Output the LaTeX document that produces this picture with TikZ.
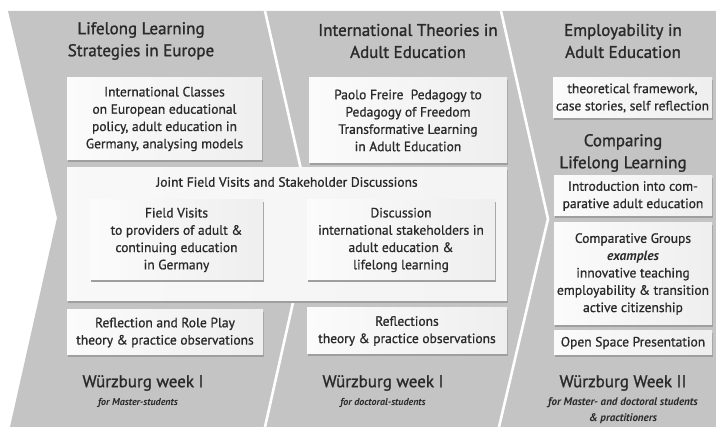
\documentclass[tikz,border=0pt]{standalone}
\usepackage{fontspec}
\setmainfont{PT Sans}
\newfontfamily\medfont{PT Sans}[FakeBold=0.9]
\newfontfamily\semifont{PT Sans}[FakeBold=1.3]
\usetikzlibrary{shadows}
\definecolor{bandgray}{HTML}{C4C4C4}
\definecolor{inkgray}{HTML}{2A2A2A}
\tikzset{
  card/.style={draw=none, left color=gray!3, right color=gray!13,
    drop shadow={shadow xshift=0.8pt, shadow yshift=-1.6pt, fill=gray!75, opacity=1},
    align=center, inner sep=0pt, text=inkgray, font=\medfont\fontsize{13.5}{17.3}\selectfont},
  head/.style={align=center, text=inkgray, font=\semifont\fontsize{17}{22}\selectfont},
  week/.style={text=inkgray, font=\semifont\fontsize{17}{20}\selectfont},
  note/.style={align=center, text=inkgray, font=\fontsize{10}{16}\selectfont\bfseries\itshape},
}
\begin{document}
\begin{tikzpicture}[x=1pt,y=-1pt]
  \useasboundingbox (0,0) rectangle (716,427);
  %grey band with the three chevrons
  \coordinate (tl) at (8,11);
  \coordinate (notch) at (57,218);
  \coordinate (bl) at (10,427);
  \fill[bandgray] (tl) -- (716,11) -- (716,427) -- (bl) -- (notch) -- cycle;
  \coordinate (a1) at (265,11);  \coordinate (a2) at (312,218);  \coordinate (a3) at (265,427);
  \coordinate (b1) at (501,11);  \coordinate (b2) at (548,219);  \coordinate (b3) at (499,427);
  \draw[white, line width=2.6pt] (a1) -- (a2) -- (a3);
  \draw[white, line width=2.6pt] (b1) -- (b2) -- (b3);

  %headings
  \node[head] (h1) at (141,41) {Lifelong Learning\\Strategies in Europe};
  \node[head] (h2) at (408,41) {International Theories in\\Adult Education};
  \node[head] (h3) at (623,41) {Employability in\\Adult Education};
  \node[head] (h4) at (623,153) {Comparing\\Lifelong Learning};

  %first row
  \node[card, minimum width=195pt, minimum height=82pt] (classes) at (164.5,119)
    {International Classes\\on European educational\\policy, adult education in\\Germany, analysing models};
  \node[card, minimum width=198pt, minimum height=85pt] (freire) at (408,120.5)
    {Paolo Freire\ \ Pedagogy to\\Pedagogy of Freedom\\Transformative Learning\\in Adult Education};
  \node[card, minimum width=159pt, minimum height=40pt] (frame) at (632.5,98)
    {theoretical framework,\\case stories, self reflection};

  %joint part
  \node[card, left color=gray!5, right color=gray!9, minimum width=440pt, minimum height=133pt] (joint) at (287,234.5) {};
  \node[text=inkgray, font=\medfont\fontsize{13.5}{17}\selectfont] (jtitle) at (287,182)
    {Joint Field Visits and Stakeholder Discussions};
  \node[card, minimum width=173pt, minimum height=80pt] (visits) at (176.5,240)
    {Field Visits\\to providers of adult \&\\continuing education\\in Germany};
  \node[card, minimum width=188pt, minimum height=80pt] (discuss) at (401,240)
    {Discussion\\international stakeholders in\\adult education \&\\lifelong learning};

  %right column
  \node[card, minimum width=158pt, minimum height=40pt] (intro) at (633,196)
    {Introduction into com-\\parative adult education};
  \node[card, minimum width=158pt, minimum height=102pt] (groups) at (633,274)
    {Comparative Groups\\{\normalfont\bfseries\itshape examples}\\innovative teaching\\employability \& transition\\active citizenship};
  \node[card, minimum width=158pt, minimum height=24pt] (space) at (633,343)
    {Open Space Presentation};

  %reflections
  \node[card, minimum width=196pt, minimum height=45pt] (roleplay) at (165,332.5)
    {Reflection and Role Play\\theory \& practice observations};
  \node[card, minimum width=200pt, minimum height=46pt] (reflect) at (407,331)
    {Reflections\\theory \& practice observations};

  %weeks
  \node[week] (w1) at (143,383) {Würzburg week I};
  \node[week] (w2) at (383,383) {Würzburg week I};
  \node[week] (w3) at (623,383) {Würzburg Week II};
  \node[note] (n1) at (138,403) {for Master-students};
  \node[note] (n2) at (383,403) {for doctoral-students};
  \node[note, font=\fontsize{11}{16}\selectfont\bfseries\itshape] (n3) at (623,411)
    {for Master- and doctoral students\\\& practitioners};
\end{tikzpicture}
\end{document}
